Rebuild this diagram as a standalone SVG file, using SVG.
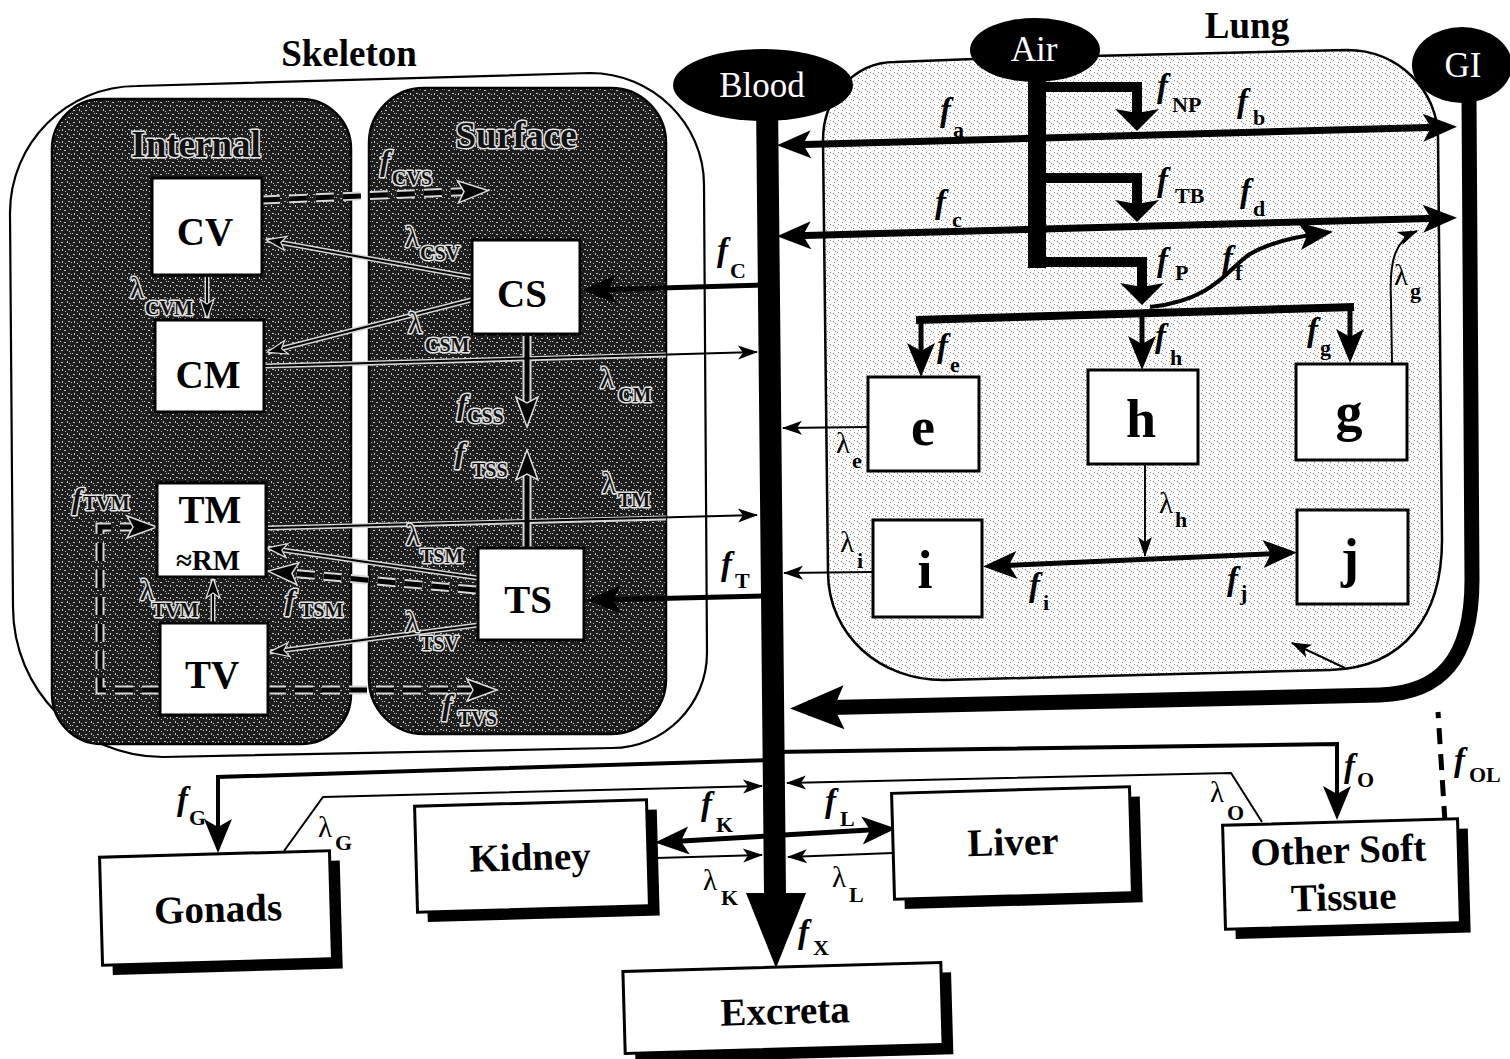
<svg xmlns="http://www.w3.org/2000/svg" width="1510" height="1059" viewBox="0 0 1510 1059">
<defs>
<style>
.t{font-family:"Liberation Serif","Times New Roman",serif;fill:#000}
.ttl{font-weight:bold;font-size:37px;text-anchor:middle}
.lbl{font-weight:bold;font-size:39px;text-anchor:middle}
.big{font-weight:bold;font-size:54px;text-anchor:middle}
.ell{fill:#fff;font-size:35px;text-anchor:middle}
.f{font-style:italic;font-weight:bold;font-size:33px}
.lm{font-size:29px}
.sb{font-style:normal;font-weight:bold;font-size:22px}
.sk{fill:#111;stroke:#e2e2e2;stroke-width:3px;paint-order:stroke;stroke-linejoin:round}
.sk.f{font-size:30px}
.sk .sb{font-size:20px}
.outline{fill:none;stroke:#000;stroke-width:2.2}
.panel{fill:url(#dark);stroke:#000;stroke-width:2.5}
.lungp{fill:url(#stip);stroke:#000;stroke-width:2.5}
.box{fill:#fff;stroke:#000;stroke-width:3}
.shadow{fill:#000}
.oval{fill:#000}
.tk{fill:none;stroke:#000;stroke-linejoin:miter}
.w4{stroke-width:4}
.w5{stroke-width:5}
.w7{stroke-width:7}
.w8{stroke-width:8}
.w10{stroke-width:10}
.me{marker-end:url(#ah)}
.ms{marker-start:url(#ah)}
.ma{marker-end:url(#aha)}
.thin{fill:none;stroke:#000;stroke-width:2;marker-end:url(#ahs)}
.skthin{fill:none;stroke:#000;stroke-width:2;marker-end:url(#ahsw)}
.halo{fill:none;stroke:#d6d6d6;stroke-width:5}
.dhalo{fill:none;stroke:#d6d6d6;stroke-width:9;stroke-dasharray:18 9}
.dash{fill:none;stroke:#000;stroke-width:5;stroke-dasharray:18 9;marker-end:url(#ahd)}
.shalo{fill:none;stroke:#d6d6d6;stroke-width:9}
.sthick{fill:none;stroke:#000;stroke-width:5;marker-end:url(#ahd)}
.oldash{fill:none;stroke:#000;stroke-width:5;stroke-dasharray:16 10}
</style>
<pattern id="dark" width="12" height="12" patternUnits="userSpaceOnUse">
<rect width="12" height="12" fill="#1e1e1e"/>
<path d="M1,2h2v1h-2z M7,1h1v2h-1z M4,6h2v1h-2z M10,5h1v1h-1z M2,9h1v2h-1z M8,9h2v1h-2z M5,11h1v1h-1z M11,10h1v1h-1z M0,5h1v1h-1z M9,3h1v1h-1z" fill="#c4c4c4"/>
</pattern>
<pattern id="stip" width="8" height="8" patternUnits="userSpaceOnUse">
<rect width="8" height="8" fill="#fff"/>
<path d="M1,1h1v1h-1z M5,4h1v1h-1z M2,6h1v1h-1z M6,0h1v1h-1z M3,3h1v1h-1z" fill="#8a8a8a"/>
</pattern>
<marker id="ah" markerUnits="userSpaceOnUse" viewBox="-26 -16 38 32" markerWidth="38" markerHeight="32" refX="0" refY="0" orient="auto-start-reverse">
<path d="M10,0 L-24,-14 L-16,0 L-24,14 Z" fill="#000"/>
</marker>
<marker id="ahs" markerUnits="userSpaceOnUse" viewBox="-22 -9 24 18" markerWidth="24" markerHeight="18" refX="0" refY="0" orient="auto-start-reverse">
<path d="M1,0 L-19,-7 L-14,0 L-19,7 Z" fill="#000"/>
</marker>
<marker id="ahsw" markerUnits="userSpaceOnUse" viewBox="-22 -9 24 18" markerWidth="24" markerHeight="18" refX="0" refY="0" orient="auto">
<path d="M1,0 L-19,-7 L-14,0 L-19,7 Z" fill="#000" stroke="#ddd" stroke-width="1.2"/>
</marker>
<marker id="ahb" markerUnits="userSpaceOnUse" viewBox="-40 -25 62 50" markerWidth="62" markerHeight="50" refX="0" refY="0" orient="auto">
<path d="M18,0 L-36,-22 L-26,0 L-36,22 Z" fill="#000"/>
</marker>
<marker id="aha" markerUnits="userSpaceOnUse" viewBox="-14 -24 30 48" markerWidth="30" markerHeight="48" refX="0" refY="0" orient="auto">
<path d="M14,0 L-8,-22 L-4,0 L-8,22 Z" fill="#000"/>
</marker>
<marker id="ahd" markerUnits="userSpaceOnUse" viewBox="-26 -14 38 28" markerWidth="38" markerHeight="28" refX="0" refY="0" orient="auto">
<path d="M10,0 L-20,-11 L-14,0 L-20,11 Z" fill="#000" stroke="#ddd" stroke-width="1.5"/>
</marker>
</defs>
<rect width="1510" height="1059" fill="#fff"/>

<g id="skeleton">
<path class="outline" d="M10,213 C10,143 67,86 137,86 L590,73 C652,73 704,123 704,185 L707,653 C707,705 664,748 612,748 L163,757 C80,757 13,690 13,607 Z"/>
<rect id="internal-panel" class="panel" x="52" y="99" width="299" height="645" rx="50"/>
<rect id="surface-panel" class="panel" x="369" y="88" width="297" height="646" rx="55"/>
<text class="t ttl" x="349" y="66">Skeleton</text>
<text class="t ttl sk" x="196" y="157">Internal</text>
<text class="t ttl sk" x="516" y="148">Surface</text>
</g>

<g id="lung">
<path class="lungp" d="M828,572 L823,140 C823,100 852,62 895,62 L1000,58 L1347,50 C1398,50 1438,90 1438,138 L1442,540 C1442,615 1405,668 1330,670 L945,680 C880,681 828,635 828,572 Z"/>
<text class="t ttl" x="1247" y="38">Lung</text>
</g>

<g id="connectors">
<g class="halo">
<path d="M471,277 L267,240"/>
<path d="M471,300 L268,352"/>
<path d="M207,277 L207,318"/>
<path d="M478,578 L268,548"/>
<path d="M478,625 L270,652"/>
<path d="M213,623 L213,579"/>
<path d="M265,366 L666,355"/>
<path d="M268,528 L666,518"/>
</g>
<g class="dhalo">
<path d="M262,200 L478,191"/>
<path d="M476,590 L278,572"/>
<path d="M268,690 L487,690"/>
<path d="M160,690 L100,690 L100,527 L147,527"/>
</g>
<g class="shalo">
<path d="M527,336 L527,417"/>
<path d="M527,548 L527,460"/>
</g>
<path class="skthin" d="M471,277 L267,240"/>
<path class="skthin" d="M471,300 L268,352"/>
<path class="skthin" d="M207,277 L207,318"/>
<path class="skthin" d="M478,578 L268,548"/>
<path class="skthin" d="M478,625 L270,652"/>
<path class="skthin" d="M213,623 L213,579"/>
<path class="dash" d="M262,200 L478,191"/>
<path class="dash" d="M476,590 L278,572"/>
<path class="dash" d="M268,690 L487,690"/>
<path class="dash" d="M160,690 L100,690 L100,527 L147,527"/>
<path class="sthick" d="M527,336 L527,417"/>
<path class="sthick" d="M527,548 L527,460"/>
<path class="thin" d="M265,366 L757,352"/>
<path class="thin" d="M268,528 L757,515"/>

<path class="tk w7 me ms" d="M787,145 L1447,127"/>
<path class="tk w7 me ms" d="M787,236 L1447,218"/>
<path class="tk w5 me" d="M768,285 L592,290"/>
<path class="tk w5 me" d="M768,596 L597,600"/>
<path class="tk w5 me ms" d="M993,566 L1287,553"/>
<path class="tk w5 me ms" d="M665,842 L886,829"/>
<path class="tk w4 me" d="M773,760 L218,777 L218,843"/>
<path class="tk w4 me" d="M773,752 L1337,744 L1337,810"/>

<path class="tk" style="stroke-width:18" d="M1037,76 L1037,268"/>
<path class="tk w10 ma" d="M1037,87 L1137,87 L1137,117"/>
<path class="tk w10 ma" d="M1037,178 L1137,178 L1137,208"/>
<path class="tk w10 ma" d="M1037,262 L1142,262 L1142,291"/>
<path class="tk w8" d="M916,320 L1354,307"/>
<path class="tk w5 me" d="M921,320 L921,367"/>
<path class="tk w5 me" d="M1142,313 L1142,360"/>
<path class="tk w5 me" d="M1350,308 L1350,353"/>
<path class="tk w4 me" d="M1150,307 C1215,300 1228,268 1250,254 C1272,241 1300,236 1323,233"/>
<path class="thin" d="M1392,364 L1391,300 C1389,258 1396,240 1417,231"/>

<path class="tk" style="stroke-width:15;marker-end:url(#ahb)" d="M1469,98 L1472,580 C1472,660 1440,693 1380,695 L808,708"/>
<path class="oldash" d="M1445,822 L1438,712"/>
<path class="thin" d="M1345,668 L1292,643"/>

<polygon id="blood-trunk" points="756,100 778,100 786,893 806,893 776,968 746,893 764,893" fill="#000"/>

<path class="thin" d="M868,427 L783,428"/>
<path class="thin" d="M873,572 L784,573"/>
<path class="thin" d="M1145,465 L1145,556"/>
<path class="thin" d="M284,851 L323,797 L762,786"/>
<path class="thin" d="M656,858 L762,855"/>
<path class="thin" d="M893,853 L788,857"/>
<path class="thin" d="M1262,822 L1231,773 L787,783"/>
</g>

<g id="node-blood"><ellipse class="oval" cx="763" cy="85" rx="90" ry="36"/><text class="t ell" x="762" y="97">Blood</text></g>
<g id="node-air"><ellipse class="oval" cx="1035" cy="50" rx="65" ry="32"/><text class="t ell" x="1034" y="61">Air</text></g>
<g id="node-gi"><ellipse class="oval" cx="1462" cy="65" rx="50" ry="38"/><text class="t ell" x="1463" y="77">GI</text></g>

<g id="node-CV"><rect class="box" x="152" y="178" width="110" height="97"/><text class="t lbl" x="205" y="245">CV</text></g>
<g id="node-CM"><rect class="box" x="155" y="320" width="109" height="92"/><text class="t lbl" x="208" y="388">CM</text></g>
<g id="node-TM"><rect class="box" x="157" y="483" width="109" height="94"/><text class="t lbl" x="210" y="523">TM</text><text class="t" style="font-weight:bold;font-size:29px;text-anchor:middle" x="208" y="570">≈RM</text></g>
<g id="node-TV"><rect class="box" x="160" y="623" width="108" height="92"/><text class="t lbl" x="212" y="688">TV</text></g>
<g id="node-CS"><rect class="box" x="472" y="240" width="108" height="94"/><text class="t lbl" x="522" y="307">CS</text></g>
<g id="node-TS"><rect class="box" x="478" y="548" width="106" height="92"/><text class="t lbl" x="528" y="613">TS</text></g>

<g id="node-e"><rect class="box" x="868" y="377" width="111" height="94"/><text class="t big" x="923" y="445">e</text></g>
<g id="node-h"><rect class="box" x="1088" y="370" width="110" height="94"/><text class="t big" x="1141" y="437">h</text></g>
<g id="node-g"><rect class="box" x="1296" y="364" width="111" height="96"/><text class="t big" x="1349" y="430">g</text></g>
<g id="node-i"><rect class="box" x="873" y="520" width="109" height="97"/><text class="t big" x="925" y="588">i</text></g>
<g id="node-j"><rect class="box" x="1297" y="510" width="111" height="94"/><text class="t big" x="1350" y="576">j</text></g>

<g id="node-gonads" transform="rotate(-1.6 216 908)"><rect class="shadow" x="111" y="864" width="230" height="108"/><rect class="box" x="101" y="854" width="230" height="108"/><text class="t lbl" x="218" y="922">Gonads</text></g>
<g id="node-kidney" transform="rotate(-1.6 532 856)"><rect class="shadow" x="426" y="813" width="232" height="106"/><rect class="box" x="416" y="803" width="232" height="106"/><text class="t lbl" x="530" y="870">Kidney</text></g>
<g id="node-liver" transform="rotate(-1.6 1012 843)"><rect class="shadow" x="903" y="800" width="238" height="106"/><rect class="box" x="893" y="790" width="238" height="106"/><text class="t lbl" x="1013" y="855">Liver</text></g>
<g id="node-other" transform="rotate(-1.6 1342 874)"><rect class="shadow" x="1234" y="832" width="235" height="104"/><rect class="box" x="1224" y="822" width="235" height="104"/><text class="t lbl" x="1339" y="863">Other Soft</text><text class="t lbl" x="1343" y="910">Tissue</text></g>
<g id="node-excreta" transform="rotate(-1.6 783 1008)"><rect class="shadow" x="634" y="977" width="318" height="82"/><rect class="box" x="624" y="967" width="318" height="82"/><text class="t lbl" x="785" y="1024">Excreta</text></g>

<g id="labels">
<text class="t f" x="940" y="121">f<tspan class="sb" x="953" y="137">a</tspan></text>
<text class="t f" x="935" y="213">f<tspan class="sb" x="952" y="227">c</tspan></text>
<text class="t f" x="717" y="261">f<tspan class="sb" x="730" y="278">C</tspan></text>
<text class="t f" x="721" y="575">f<tspan class="sb" x="735" y="588">T</tspan></text>
<text class="t f" x="1157" y="97">f<tspan class="sb" x="1172" y="112">NP</tspan></text>
<text class="t f" x="1237" y="112">f<tspan class="sb" x="1253" y="125">b</tspan></text>
<text class="t f" x="1157" y="191">f<tspan class="sb" x="1175" y="203">TB</tspan></text>
<text class="t f" x="1240" y="202">f<tspan class="sb" x="1253" y="216">d</tspan></text>
<text class="t f" x="1157" y="271">f<tspan class="sb" x="1175" y="280">P</tspan></text>
<text class="t f" x="1222" y="269">f<tspan class="sb" x="1235" y="280">f</tspan></text>
<text class="t lm" x="1394" y="285">λ<tspan class="sb" x="1410" y="298">g</tspan></text>
<text class="t f" x="937" y="357">f<tspan class="sb" x="950" y="372">e</tspan></text>
<text class="t f" x="1155" y="347">f<tspan class="sb" x="1170" y="365">h</tspan></text>
<text class="t f" x="1307" y="341">f<tspan class="sb" x="1320" y="355">g</tspan></text>
<text class="t lm" x="836" y="453">λ<tspan class="sb" x="852" y="468">e</tspan></text>
<text class="t lm" x="840" y="552">λ<tspan class="sb" x="857" y="568">i</tspan></text>
<text class="t lm" x="1159" y="513">λ<tspan class="sb" x="1175" y="527">h</tspan></text>
<text class="t f" x="1029" y="596">f<tspan class="sb" x="1043" y="610">i</tspan></text>
<text class="t f" x="1227" y="590">f<tspan class="sb" x="1240" y="600">j</tspan></text>
<text class="t f" x="177" y="810">f<tspan class="sb" x="189" y="825">G</tspan></text>
<text class="t lm" x="318" y="837">λ<tspan class="sb" x="335" y="850">G</tspan></text>
<text class="t f" x="701" y="815">f<tspan class="sb" x="716" y="832">K</tspan></text>
<text class="t lm" x="703" y="890">λ<tspan class="sb" x="721" y="905">K</tspan></text>
<text class="t f" x="825" y="812">f<tspan class="sb" x="840" y="826">L</tspan></text>
<text class="t lm" x="832" y="887">λ<tspan class="sb" x="849" y="902">L</tspan></text>
<text class="t f" x="798" y="943">f<tspan class="sb" x="813" y="955">X</tspan></text>
<text class="t lm" x="1210" y="802">λ<tspan class="sb" x="1227" y="820">O</tspan></text>
<text class="t f" x="1344" y="777">f<tspan class="sb" x="1357" y="787">O</tspan></text>
<text class="t f" x="1454" y="771">f<tspan class="sb" x="1469" y="782">OL</tspan></text>

<text class="t f sk" x="380" y="171">f<tspan class="sb" x="392" y="185">CVS</tspan></text>
<text class="t lm sk" x="405" y="247">λ<tspan class="sb" x="420" y="260">CSV</tspan></text>
<text class="t lm sk" x="408" y="333">λ<tspan class="sb" x="425" y="352">CSM</tspan></text>
<text class="t lm sk" x="130" y="298">λ<tspan class="sb" x="145" y="315">CVM</tspan></text>
<text class="t lm sk" x="600" y="388">λ<tspan class="sb" x="618" y="402">CM</tspan></text>
<text class="t f sk" x="457" y="415">f<tspan class="sb" x="467" y="423">CSS</tspan></text>
<text class="t f sk" x="455" y="463">f<tspan class="sb" x="472" y="477">TSS</tspan></text>
<text class="t lm sk" x="602" y="493">λ<tspan class="sb" x="618" y="507">TM</tspan></text>
<text class="t lm sk" x="406" y="545">λ<tspan class="sb" x="420" y="563">TSM</tspan></text>
<text class="t lm sk" x="405" y="632">λ<tspan class="sb" x="420" y="650">TSV</tspan></text>
<text class="t f sk" x="442" y="715">f<tspan class="sb" x="458" y="725">TVS</tspan></text>
<text class="t f sk" x="285" y="610">f<tspan class="sb" x="300" y="617">TSM</tspan></text>
<text class="t f sk" x="72" y="509">f<tspan class="sb" x="83" y="510">TVM</tspan></text>
<text class="t lm sk" x="140" y="600">λ<tspan class="sb" x="152" y="617">TVM</tspan></text>
</g>
</svg>
